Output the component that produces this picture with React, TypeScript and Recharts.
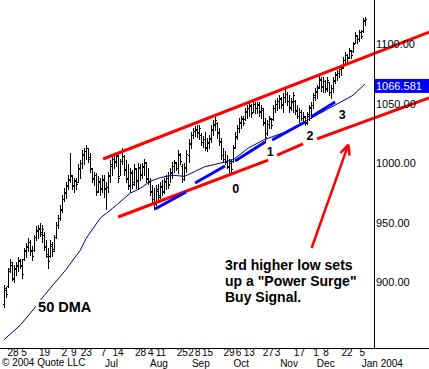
import {
  ComposedChart,
  Bar,
  Line,
  XAxis,
  YAxis,
  ReferenceLine,
  ReferenceDot,
} from "recharts";

const FONT = '"Liberation Sans", Arial, sans-serif';

// daily bars (index 0 = first bar on the left)
const highs = [
  898, 896, 912, 920, 917, 915, 917, 921, 920, 920,
  929, 933, 937, 936, 931, 940, 947, 948, 950, 948,
  942, 936, 929, 936, 934, 940, 951, 957, 965, 973,
  979, 984, 990, 1009, 990, 988, 988, 999, 1003, 1011,
  1013, 1015, 1013, 1009, 996, 993, 992, 989, 988, 990,
  990, 984, 993, 1003, 1007, 1009, 1009, 1007, 1004, 1013,
  1007, 1003, 999, 996, 994, 999, 996, 1000, 999, 1000,
  1004, 1001, 996, 988, 982, 979, 982, 983, 984, 986,
  988, 990, 993, 996, 1001, 1003, 1001, 1011, 1009, 999,
  1000, 1011, 1020, 1026, 1030, 1031, 1032, 1032, 1025, 1023,
  1026, 1021, 1024, 1032, 1036, 1039, 1035, 1030, 1021, 1013,
  1010, 1007, 1004, 1003, 1015, 1026, 1032, 1038, 1040, 1040,
  1046, 1049, 1051, 1050, 1053, 1051, 1051, 1051, 1049, 1046,
  1038, 1036, 1040, 1038, 1049, 1053, 1055, 1057, 1056, 1059,
  1062, 1060, 1057, 1055, 1060, 1053, 1049, 1046, 1045, 1043,
  1040, 1043, 1049, 1051, 1059, 1063, 1066, 1074, 1072, 1072,
  1070, 1072, 1068, 1066, 1072, 1077, 1078, 1082, 1082, 1089,
  1093, 1092, 1097, 1095, 1102, 1110, 1108, 1112, 1112, 1122, 1123,
];
const lows = [
  879, 888, 896, 909, 902, 900, 906, 910, 912, 904,
  919, 921, 926, 923, 919, 926, 936, 937, 939, 934,
  927, 921, 912, 921, 922, 926, 937, 946, 952, 959,
  968, 971, 978, 984, 978, 976, 978, 984, 988, 996,
  999, 1004, 1001, 993, 984, 982, 973, 976, 973, 976,
  972, 962, 976, 984, 990, 996, 998, 984, 990, 999,
  990, 984, 978, 976, 979, 982, 979, 978, 986, 988,
  990, 984, 983, 973, 967, 962, 965, 968, 971, 973,
  975, 978, 979, 984, 988, 993, 994, 992, 999, 984,
  986, 993, 1001, 1013, 1021, 1023, 1022, 1020, 1015, 1014,
  1011, 1010, 1013, 1018, 1024, 1028, 1021, 1015, 1004, 1001,
  999, 996, 993, 993, 1001, 1013, 1020, 1026, 1030, 1032,
  1036, 1038, 1040, 1039, 1043, 1042, 1042, 1040, 1038, 1032,
  1018, 1024, 1030, 1030, 1036, 1043, 1045, 1046, 1046, 1043,
  1051, 1049, 1043, 1045, 1043, 1041, 1038, 1035, 1036, 1034,
  1032, 1033, 1036, 1038, 1046, 1053, 1055, 1063, 1061, 1060,
  1060, 1061, 1057, 1055, 1060, 1067, 1070, 1072, 1074, 1080,
  1084, 1085, 1088, 1088, 1093, 1101, 1101, 1103, 1105, 1110, 1116,
];
const opens = [
  882, 894, 897, 911, 915, 903, 911, 914, 918, 915,
  920, 926, 930, 934, 926, 927, 938, 943, 945, 942,
  940, 931, 922, 922, 931, 928, 938, 948, 954, 961,
  970, 975, 981, 986, 989, 982, 985, 984, 995, 1000,
  1007, 1010, 1013, 1005, 995, 988, 990, 977, 984, 979,
  986, 979, 980, 989, 998, 1004, 1002, 1006, 989, 1002,
  1006, 995, 988, 981, 992, 984, 995, 986, 996, 991,
  997, 1000, 988, 984, 977, 970, 966, 977, 973, 980,
  977, 984, 988, 983, 992, 998, 1000, 996, 1007, 998,
  987, 996, 1007, 1016, 1024, 1027, 1028, 1026, 1024, 1018,
  1020, 1013, 1017, 1021, 1028, 1032, 1034, 1026, 1019, 1007,
  1004, 1002, 997, 1000, 1002, 1014, 1022, 1030, 1034, 1038,
  1037, 1043, 1046, 1048, 1043, 1050, 1046, 1050, 1044, 1045,
  1034, 1025, 1033, 1037, 1037, 1046, 1050, 1052, 1054, 1050,
  1056, 1058, 1052, 1047, 1051, 1052, 1045, 1040, 1043, 1038,
  1039, 1035, 1040, 1046, 1049, 1056, 1060, 1064, 1070, 1064,
  1069, 1063, 1068, 1060, 1063, 1069, 1074, 1076, 1079, 1081,
  1087, 1091, 1089, 1094, 1094, 1101, 1107, 1104, 1110, 1111, 1119,
];
const closes = [
  895, 890, 910, 917, 904, 912, 915, 919, 914, 907,
  927, 931, 934, 927, 922, 938, 944, 946, 941, 945,
  930, 924, 918, 932, 926, 938, 948, 954, 962, 970,
  976, 982, 987, 990, 981, 986, 983, 996, 1000, 1008,
  1010, 1013, 1004, 996, 987, 990, 976, 985, 978, 987,
  978, 980, 990, 999, 1004, 1001, 1007, 988, 1002, 1010,
  994, 987, 982, 993, 983, 996, 985, 997, 990, 998,
  1001, 987, 985, 976, 970, 966, 978, 972, 981, 976,
  985, 988, 982, 993, 998, 1001, 996, 1008, 1002, 987,
  997, 1008, 1017, 1024, 1027, 1029, 1025, 1030, 1018, 1020,
  1014, 1018, 1020, 1029, 1033, 1036, 1025, 1018, 1007, 1004,
  1001, 998, 1002, 995, 1013, 1023, 1030, 1035, 1037, 1034,
  1044, 1046, 1049, 1042, 1050, 1046, 1049, 1043, 1046, 1035,
  1022, 1033, 1038, 1032, 1046, 1050, 1052, 1055, 1049, 1056,
  1058, 1052, 1046, 1052, 1057, 1044, 1040, 1043, 1038, 1040,
  1034, 1041, 1047, 1049, 1057, 1061, 1063, 1071, 1065, 1069,
  1062, 1070, 1060, 1063, 1070, 1075, 1076, 1079, 1080, 1087,
  1091, 1088, 1095, 1091, 1100, 1108, 1104, 1110, 1107, 1120, 1121,
];

// 50 DMA, read at a few bars
const dmaPoints: [number, number][] = [
  [0, 852], [8, 864], [15, 878], [19, 887], [25, 899], [31, 911],
  [38, 927], [41, 937], [48, 954], [54, 962], [63, 975], [68, 979],
  [73, 985], [78, 988], [84, 990], [90, 989], [95, 993], [100, 997],
  [105, 999], [110, 1001], [115, 1004], [122, 1013], [130, 1020],
  [140, 1026], [150, 1035], [162, 1046], [174, 1057], [180, 1066.581],
];
const lastDma = 1066.581;

const priceTicks = [900, 950, 1000, 1050, lastDma, 1100];

// bottom axis: day numbers and month names, at bar positions
const dayTickPos = [
  4.5, 10, 20.2, 30, 34.8, 41, 49.6, 56.9, 68.1, 73.2, 78.2, 88.9, 93.2,
  96.6, 101.5, 112.2, 116.9, 122.3, 131.8, 136.4, 147.3, 155.6, 160.6,
  171.1, 178.6,
];
const dayTickText = [
  "28", "5", "19", "2", "9", "23", "7", "14", "28", "4", "11", "25", "2",
  "8", "15", "29", "6", "13", "27", "3", "17", "1", "8", "22", "5",
];
const monthTickPos = [50.4, 72.8, 93.7, 114.4, 137.7, 156, 178.4];
const monthTickText = ["Jul", "Aug", "Sep", "Oct", "Nov", "Dec", "Jan 2004"];

// drawn lines, as [bar1, price1, bar2, price2]
const channelLines = [
  [49.4, 1003.6, 212, 1110.1],
  [56.9, 954.9, 131.7, 1002.7],
  [136.2, 1006.9, 149.1, 1016.2],
  [156.1, 1020.4, 212, 1054.8],
];
const higherLows = [
  [75.3, 961.6, 90.8, 975.9],
  [95.3, 983.4, 110.2, 997.7],
  [115.2, 1001.9, 130.2, 1017.8],
  [133.7, 1019.5, 150.1, 1034.6],
  [153.1, 1038.8, 165.1, 1051.4],
];
const arrowLines = [
  [153.4, 928.9, 171.7, 1015.7],
  [167.8, 1008.6, 171.7, 1015.7],
  [172.3, 1006.5, 171.7, 1015.7],
];

const lowMarks = [
  { k: 115.5, p: 975.0, text: "0" },
  { k: 132.7, p: 1006.1, text: "1" },
  { k: 152.6, p: 1019.5, text: "2" },
  { k: 168.6, p: 1037.1, text: "3" },
];
const noteLines = ["3rd higher low sets", 'up a "Power Surge"', "Buy Signal."];

const rows = highs.map((hi, k) => ({
  k,
  hi,
  lo: lows[k],
  op: opens[k],
  cl: closes[k],
  dma: dmaPoints.find((d) => d[0] === k)?.[1] ?? null,
}));

function OhlcBar(props: any) {
  const { x, y, width, height, payload } = props;
  if (!payload || y == null || x == null) return null;
  const top = Math.min(y, y + height);
  const bottom = Math.max(y, y + height);
  const span = payload.hi - payload.lo || 1;
  const at = (v: number) =>
    Math.round(top + ((payload.hi - v) / span) * (bottom - top));
  const c = Math.round(x + width / 2);
  const t = Math.round(top);
  return (
    <g fill="#000" shapeRendering="crispEdges">
      <rect x={c} y={t} width={1} height={Math.max(1, Math.round(bottom) - t + 1)} />
      <rect x={c - 1} y={at(payload.op)} width={1} height={1} />
      <rect x={c + 1} y={at(payload.cl)} width={1} height={1} />
    </g>
  );
}

function XTick(props: any) {
  const { x, y, payload } = props;
  const v = payload.value;
  const di = dayTickPos.indexOf(v);
  if (di >= 0) {
    return (
      <text x={x} y={y + 7.5} textAnchor="middle" fontSize={10} fontFamily={FONT} fill="#000">
        {dayTickText[di]}
      </text>
    );
  }
  const mi = monthTickPos.indexOf(v);
  if (mi >= 0) {
    return (
      <text x={x} y={y + 18.7} textAnchor="start" fontSize={10} fontFamily={FONT} fill="#000">
        {monthTickText[mi]}
      </text>
    );
  }
  return null;
}

function YTick(props: any) {
  const { x, y, payload } = props;
  const v = payload.value;
  if (v === lastDma) {
    return (
      <g>
        <rect x={x - 1} y={y - 5} width={56} height={14} fill="#0000ff" />
        <text x={x} y={y + 6} fontSize={11} fontFamily={FONT} fill="#fff">
          {v.toFixed(3)}
        </text>
      </g>
    );
  }
  return (
    <text x={x} y={y + 4} fontSize={11} fontFamily={FONT} fill="#000">
      {v.toFixed(2)}
    </text>
  );
}

const seg = (s: number[]) => [
  { x: s[0], y: s[1] },
  { x: s[2], y: s[3] },
];

export default function App() {
  return (
    <div style={{ position: "relative", width: 429, height: 369, background: "#fff" }}>
      <style>{"body{margin:0}"}</style>
      <ComposedChart
        width={429}
        height={369}
        data={rows}
        margin={{ top: 0, right: 0, bottom: 0, left: 0 }}
      >
        <XAxis
          dataKey="k"
          type="number"
          domain={[-2, 184.5]}
          allowDataOverflow
          ticks={[...dayTickPos, ...monthTickPos]}
          interval={0}
          tick={<XTick />}
          tickLine={false}
          axisLine={false}
          tickSize={0}
          tickMargin={0}
          height={21}
        />
        <YAxis
          orientation="right"
          type="number"
          domain={[845, 1137]}
          allowDataOverflow
          ticks={priceTicks}
          interval={0}
          tick={<YTick />}
          tickLine={false}
          tickSize={0}
          tickMargin={2}
          axisLine={{ stroke: "#000", shapeRendering: "crispEdges" }}
          width={55}
        />
        <ReferenceLine
          segment={[{ x: -2, y: 845 }, { x: 213, y: 845 }]}
          stroke="#000"
          ifOverflow="visible"
          shapeRendering="crispEdges"
        />
        <Bar
          dataKey={(d: any) => [d.lo, d.hi]}
          shape={<OhlcBar />}
          barSize={2}
          isAnimationActive={false}
        />
        <Line
          dataKey="dma"
          stroke="#000080"
          strokeWidth={1}
          dot={false}
          activeDot={false}
          connectNulls
          isAnimationActive={false}
        />
        {channelLines.map((s, i) => (
          <ReferenceLine key={"c" + i} segment={seg(s)} stroke="#ff0000" strokeWidth={3} ifOverflow="visible" />
        ))}
        {higherLows.map((s, i) => (
          <ReferenceLine key={"h" + i} segment={seg(s)} stroke="#0000ff" strokeWidth={3} ifOverflow="visible" />
        ))}
        {arrowLines.map((s, i) => (
          <ReferenceLine key={"a" + i} segment={seg(s)} stroke="#ff0000" strokeWidth={2.5} ifOverflow="visible" />
        ))}
        {lowMarks.map((m) => (
          <ReferenceDot
            key={m.text}
            x={m.k}
            y={m.p}
            r={0}
            ifOverflow="visible"
            shape={(p: any) => (
              <text x={p.cx} y={p.cy} textAnchor="middle" fontSize={12.5} fontWeight="bold" fontFamily={FONT} fill="#000">
                {m.text}
              </text>
            )}
          />
        ))}
        <ReferenceDot
          x={17}
          y={875.2}
          r={0}
          ifOverflow="visible"
          shape={(p: any) => (
            <g>
              <rect x={p.cx - 2} y={p.cy - 12} width={57} height={14} fill="#fff" />
              <text x={p.cx} y={p.cy} fontSize={14.5} fontWeight="bold" fontFamily={FONT} fill="#000">
                50 DMA
              </text>
            </g>
          )}
        />
        <ReferenceDot
          x={110.2}
          y={910.4}
          r={0}
          ifOverflow="visible"
          shape={(p: any) => (
            <text x={p.cx} y={p.cy} fontSize={14} fontWeight="bold" fontFamily={FONT} fill="#000">
              {noteLines.map((t, i) => (
                <tspan key={i} x={p.cx} dy={i === 0 ? 0 : 16}>
                  {t}
                </tspan>
              ))}
            </text>
          )}
        />
      </ComposedChart>
      <div
        style={{
          position: "absolute",
          left: 2,
          top: 358,
          fontFamily: FONT,
          fontSize: 10,
          lineHeight: "10px",
          color: "#000",
          whiteSpace: "nowrap",
        }}
      >
        © 2004 Quote LLC
      </div>
    </div>
  );
}
